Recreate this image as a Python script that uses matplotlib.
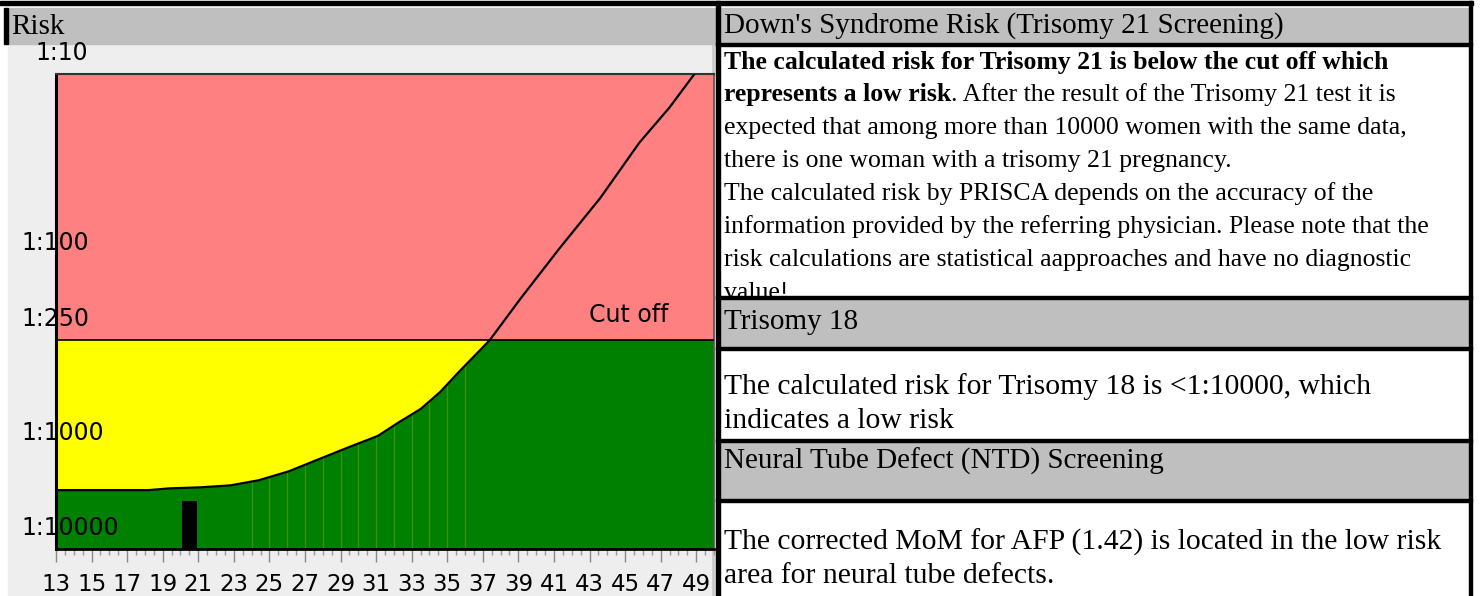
import numpy as np
import matplotlib
matplotlib.use("Agg")
import matplotlib.pyplot as plt
from matplotlib.patches import Rectangle

# risk curve: maternal age vs. risk denominator (1:n)
ages = [13, 18.2, 19.4, 21.1, 22.8, 24.4, 26.1, 27.8, 29.5, 31.1, 32.3, 33.5,
        34.6, 35.7, 36.8, 37.4, 39.1, 41.3, 43.6, 45.8, 47.5, 48.9]
risk = [2400, 2400, 2300, 2245, 2140, 1890, 1520, 1130, 918, 803, 679, 580,
        472, 366, 287, 251, 153, 83, 45, 23, 15, 10]
cutoff = 250
patient_age = 20.5
patient_risk = 3100
seam_ages = [24, 25, 26, 27, 28, 29, 30, 31, 32, 33, 34, 35, 36]

y_values = [10, 100, 250, 1000, 10000]
y_labels = ["1:10", "1:100", "1:250", "1:1000", "1:10000"]
x_ticks = [13, 15, 17, 19, 21, 23, 25, 27, 29, 31, 33, 35, 37, 39, 41, 43, 45, 47, 49]

header_t21 = "Down's Syndrome Risk (Trisomy 21 Screening)"
t21_bold = ["The calculated risk for Trisomy 21 is below the cut off which",
            "represents a low risk"]
t21_lines = [". After the result of the Trisomy 21 test it is",
             "expected that among more than 10000 women with the same data,",
             "there is one woman with a trisomy 21 pregnancy.",
             "The calculated risk by PRISCA depends on the accuracy of the",
             "information provided by the referring physician. Please note that the",
             "risk calculations are statistical aapproaches and have no diagnostic",
             "value!"]
header_t18 = "Trisomy 18"
t18_lines = ["The calculated risk for Trisomy 18 is <1:10000, which",
             "indicates a low risk"]
header_ntd = "Neural Tube Defect (NTD) Screening"
ntd_lines = ["The corrected MoM for AFP (1.42) is located in the low risk",
             "area for neural tube defects."]

W, H = 1482, 596
fig = plt.figure(figsize=(W / 100, H / 100), dpi=100)
serif = "Liberation Serif"

# page layer in pixel coordinates
bg = fig.add_axes([0, 0, 1, 1])
bg.set_xlim(0, W)
bg.set_ylim(H, 0)
bg.axis("off")

GRAY = "#bfbfbf"
bg.add_patch(Rectangle((8, 44), 708, H - 44, color="#eeeeee", zorder=0))
bg.plot([713, 713], [44, H], color="#cccccc", lw=2, zorder=1)
for y0, y1 in [(8, 44), (299, 348), (442, 500)]:
    bg.add_patch(Rectangle((720, y0), 750, y1 - y0, color=GRAY, zorder=3))
bg.add_patch(Rectangle((8, 8), 708, 36, color=GRAY, zorder=3))
bg.add_patch(Rectangle((0, 1), 1473, 3.5, color="black", zorder=4))
bg.add_patch(Rectangle((4, 8), 3.5, 36, color="black", zorder=4))
bg.add_patch(Rectangle((716, 1), 3.5, H, color="black", zorder=4))
bg.add_patch(Rectangle((1469, 1), 3, H, color="black", zorder=4))
for yl in [44, 297, 348, 440, 500]:
    bg.add_patch(Rectangle((716, yl - 1.5), 756, 3.5, color="black", zorder=4))

hs = 21
ps = 18.5
bs = 21.3
bg.text(11, 27, "Risk", fontsize=hs, family=serif, va="center", zorder=5)
bg.text(724, 26, header_t21, fontsize=hs, family=serif, va="center", zorder=5)
bg.text(724, 322, header_t18, fontsize=hs, family=serif, va="center", zorder=5)
bg.text(724, 461, header_ntd, fontsize=hs, family=serif, va="center", zorder=5)

line_y = [62, 95, 128, 161, 194, 227, 260, 293]
bg.text(724, line_y[0], t21_bold[0], fontsize=ps, family=serif, weight="bold",
        va="center", zorder=2)
tb = bg.text(724, line_y[1], t21_bold[1], fontsize=ps, family=serif, weight="bold",
             va="center", zorder=2)
fig.canvas.draw()
ext = tb.get_window_extent(fig.canvas.get_renderer())
bg.text(ext.x1, line_y[1], t21_lines[0], fontsize=ps, family=serif, va="center", zorder=2)
for yy, s in zip(line_y[2:], t21_lines[1:]):
    bg.text(724, yy, s, fontsize=ps, family=serif, va="center", zorder=2)

for yy, s in zip([387, 421], t18_lines):
    bg.text(724, yy, s, fontsize=bs, family=serif, va="center", zorder=5)
for yy, s in zip([542, 576], ntd_lines):
    bg.text(724, yy, s, fontsize=bs, family=serif, va="center", zorder=5)


# chart
def fwd(v):
    lv = np.log10(np.clip(np.asarray(v, float), 1e-9, None))
    return np.where(lv <= 3, lv, 3 + (lv - 3) * 0.5)


def inv(u):
    u = np.asarray(u, float)
    return np.where(u <= 3, 10 ** u, 10 ** (3 + (u - 3) / 0.5))


ax = fig.add_axes([56 / W, (H - 549) / H, 658 / W, 475 / H])
ax.set_yscale("function", functions=(fwd, inv))
ax.set_xlim(13, 50)
ax.set_ylim(10000, 10)

ax.axhspan(10, cutoff, color="#ff8080", lw=0, zorder=0)
ax.axhspan(cutoff, 10000, color="#008000", lw=0, zorder=0)
ax.vlines(seam_ages, cutoff, 10000, color="#3f900c", lw=0.9, zorder=1)
r = np.array(risk, float)
ax.fill_between(ages, cutoff, r, where=r >= cutoff, interpolate=True,
                color="#ffff00", lw=0, zorder=2)
ax.axhline(cutoff, color="black", lw=1.2, zorder=3)
ax.plot(ages, risk, color="black", lw=1.6, zorder=4)
ax.bar(patient_age, 10000 - patient_risk, bottom=patient_risk, width=0.85,
       color="black", zorder=5)

for v, lab in zip(y_values, y_labels):
    lx = -0.032 if lab == "1:10" else -0.052
    ax.annotate(lab, (lx, v), xycoords=("axes fraction", "data"),
                xytext=(0, 21), textcoords="offset pixels", ha="left",
                va="center", fontsize=17, color="black", zorder=6,
                annotation_clip=False)
ax.annotate("Cut off", (45.2, cutoff), xytext=(0, 25), textcoords="offset pixels",
            ha="center", va="center", fontsize=17, zorder=6)

ax.set_yticks([])
ax.set_yticks([], minor=True)
ax.set_xticks(x_ticks)
ax.set_xticks(np.arange(13, 50.01, 0.5), minor=True)
ax.tick_params(axis="x", which="major", length=9, width=1, color="#888888",
               labelsize=16.5, pad=8)
ax.tick_params(axis="x", which="minor", length=4, width=1, color="#999999")
ax.spines["left"].set_linewidth(2.2)
ax.spines["bottom"].set_linewidth(2)
ax.spines["top"].set_color("#333333")
ax.spines["right"].set_color("#555555")
ax.spines["top"].set_linewidth(1.5)
ax.spines["right"].set_linewidth(1.2)

fig.savefig("out.png", dpi=100)
